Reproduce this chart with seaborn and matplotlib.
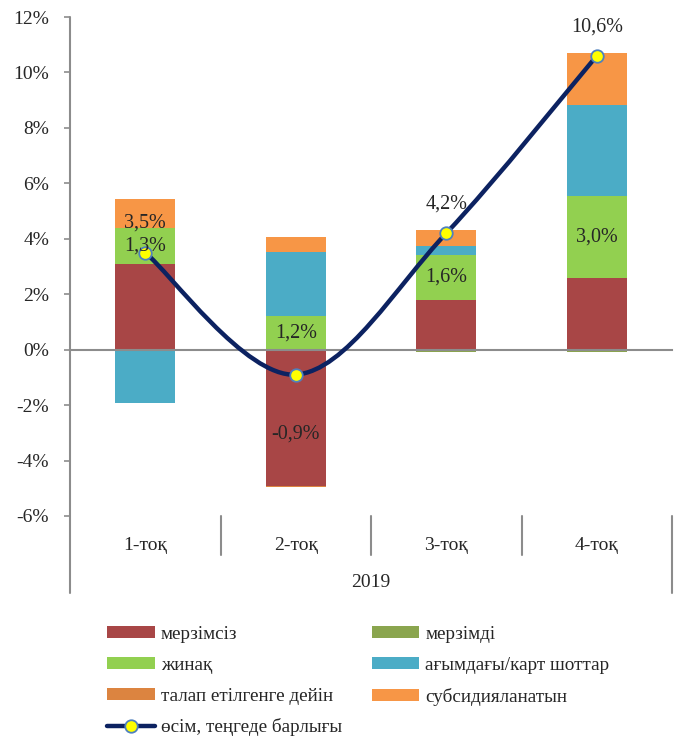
"""
Deposit growth decomposition chart (2019, quarterly)
"""

import numpy as np
import matplotlib
matplotlib.use("Agg")
import matplotlib.pyplot as plt
from matplotlib.path import Path
from matplotlib.patches import PathPatch, Patch
from matplotlib.lines import Line2D
import seaborn as sns

# ---- data (percent) ----
quarters = ["1-тоқ", "2-тоқ", "3-тоқ", "4-тоқ"]
year_label = "2019"

indefinite = [3.10, -4.93, 1.80, 2.58]      # мерзімсіз
term = [-0.03, 0.00, -0.08, -0.10]          # мерзімді
savings = [1.30, 1.20, 1.62, 2.98]          # жинақ
current = [-1.90, 2.34, 0.33, 3.27]         # ағымдағы/карт шоттар
demand = [0.00, -0.04, 0.00, 0.00]          # талап етілгенге дейін
subsidized = [1.04, 0.52, 0.55, 1.86]       # субсидияланатын
total_growth = [3.5, -0.9, 4.2, 10.6]       # өсім, теңгеде барлығы

savings_labels = ["1,3%", "1,2%", "1,6%", "3,0%"]
growth_labels = ["3,5%", "-0,9%", "4,2%", "10,6%"]

y_ticks = [-6, -4, -2, 0, 2, 4, 6, 8, 10, 12]
y_tick_labels = ["-6%", "-4%", "-2%", "0%", "2%", "4%", "6%", "8%", "10%", "12%"]

series_names = ["мерзімсіз", "мерзімді", "жинақ", "ағымдағы/карт шоттар",
                "талап етілгенге дейін", "субсидияланатын"]
line_name = "өсім, теңгеде барлығы"

colors = ["#A84646", "#8AA54E", "#92D050", "#4BACC6", "#DC8440", "#F79646"]
line_color = "#0C2261"
marker_face = "#FFFF00"
marker_edge = "#4F81BD"
axis_gray = "#8C8C8C"

sns.set_style("white")
plt.rcParams['font.family'] = ['Liberation Serif', 'DejaVu Serif']
plt.rcParams['font.size'] = 13.5

fig = plt.figure(figsize=(6.8, 7.36), dpi=100)
ax = fig.add_axes([70 / 680, 220 / 736, 602 / 680, 499 / 736])

# ---- stacked bars: positives stack up, negatives stack down ----
all_series = [indefinite, term, savings, current, demand, subsidized]
pos_base = np.zeros(len(quarters))
neg_base = np.zeros(len(quarters))
savings_bottom = None
for idx, (vals, col) in enumerate(zip(all_series, colors)):
    vals = np.array(vals, dtype=float)
    bottom = np.where(vals >= 0, pos_base, neg_base)
    if idx == 2:
        savings_bottom = bottom.copy()
    sns.barplot(x=quarters, y=vals, bottom=bottom, color=col, saturation=1,
                width=0.4, errorbar=None, linewidth=0, ax=ax)
    pos_base = pos_base + np.clip(vals, 0, None)
    neg_base = neg_base + np.clip(vals, None, 0)

# ---- smoothed growth line (bezier through the points) ----
xs = np.arange(len(quarters), dtype=float)
ys = np.array(total_growth, dtype=float)
pts = np.column_stack([xs, ys])
ext = np.vstack([pts[0], pts, pts[-1]])
verts = [tuple(pts[0])]
codes = [Path.MOVETO]
for i in range(len(pts) - 1):
    p0, p1, p2, p3 = ext[i], ext[i + 1], ext[i + 2], ext[i + 3]
    c1 = p1 + (p2 - p0) / 6.0
    c2 = p2 - (p3 - p1) / 6.0
    verts += [tuple(c1), tuple(c2), tuple(p2)]
    codes += [Path.CURVE4] * 3
ax.add_patch(PathPatch(Path(verts, codes), facecolor="none", edgecolor=line_color,
                       lw=3.2, capstyle="round", joinstyle="round", zorder=4))
ax.plot(xs, ys, linestyle="none", marker="o", markersize=9,
        markerfacecolor=marker_face, markeredgecolor=marker_edge,
        markeredgewidth=1.3, zorder=5)

# ---- labels ----
for i, lab in enumerate(savings_labels):
    ax.text(i, savings_bottom[i] + savings[i] / 2, lab, ha="center", va="center",
            fontsize=14.5, zorder=6)
for i, lab in enumerate(growth_labels):
    off = -43 if total_growth[i] < 0 else 21
    ax.annotate(lab, (i, total_growth[i]), xytext=(0, off), textcoords="offset points",
                ha="center", va="center", fontsize=14.5, zorder=6)

# ---- axes styling ----
ax.set_xlim(-0.5, len(quarters) - 0.5)
ax.set_ylim(-6, 12)
ax.set_yticks(y_ticks)
ax.set_yticklabels(y_tick_labels)
ax.set_xticks([])
ax.set_xlabel("")
ax.set_ylabel("")
ax.tick_params(axis="y", which="both", left=True, length=4, width=1.2,
               color=axis_gray, pad=11, labelsize=14)
for s in ["top", "right", "left"]:
    ax.spines[s].set_visible(False)
ax.spines["bottom"].set_position(("data", 0))
ax.spines["bottom"].set_color(axis_gray)
ax.spines["bottom"].set_linewidth(1.5)
ax.spines["bottom"].set_zorder(3)

# y axis line running down through the category band
ax.plot([0, 0], [1, -0.155], transform=ax.transAxes, color=axis_gray, lw=1.5,
        clip_on=False, zorder=3)
# category separators
trans = ax.get_xaxis_transform()
for b in np.arange(0.5, len(quarters) - 0.5):
    ax.plot([b, b], [0, -0.078], transform=trans, color=axis_gray, lw=1.5, clip_on=False)
ax.plot([len(quarters) - 0.5] * 2, [0, -0.155], transform=trans, color=axis_gray,
        lw=1.5, clip_on=False)
for i, q in enumerate(quarters):
    ax.text(i, -0.060, q, transform=trans, ha="center", va="center", fontsize=14)
ax.text((len(quarters) - 1) / 2, -0.134, year_label, transform=trans,
        ha="center", va="center", fontsize=14)

# ---- legend ----
patches = [Patch(facecolor=c, edgecolor="none") for c in colors]
line_handle = Line2D([], [], color=line_color, lw=3.2, marker="o", markersize=9,
                     markerfacecolor=marker_face, markeredgecolor=marker_edge,
                     markeredgewidth=1.3)
order = [0, 2, 4, None, 1, 3, 5]
handles, labels = [], []
for k in order:
    if k is None:
        handles.append(line_handle)
        labels.append(line_name)
    else:
        handles.append(patches[k])
        labels.append(series_names[k])
fig.legend(handles, labels, loc="upper left", bbox_to_anchor=(107 / 680, 1 - 626 / 736),
           ncol=2, frameon=False, fontsize=13.8, handlelength=2.5, handleheight=0.55,
           handletextpad=0.3, columnspacing=1.55, labelspacing=0.72,
           borderpad=0, borderaxespad=0)

fig.savefig("out.png", dpi=100)
plt.close(fig)
